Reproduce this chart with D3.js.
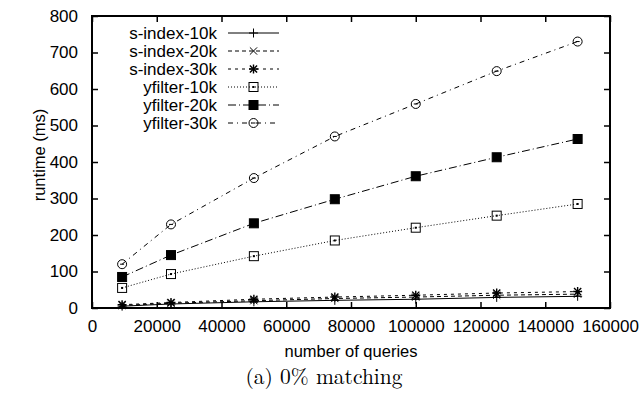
<!DOCTYPE html>
<html>
<head>
<meta charset="utf-8">
<script src="https://cdn.jsdelivr.net/npm/d3@7"></script>
<style>
  body { margin: 0; background: #fff; }
  text { font-family: "Liberation Sans", Arial, sans-serif; fill: #000; }
</style>
</head>
<body>
<script>
const width = 644, height = 396;
const margin = { top: 16, right: 34, bottom: 88, left: 92 };
const w = width - margin.left - margin.right;
const h = height - margin.top - margin.bottom;

// data
const queries = [9300, 24400, 50000, 75000, 100000, 125000, 150000];
const sIndex10k = [5, 11, 17, 21, 24, 29, 32];
const sIndex20k = [7, 13, 20, 26, 30, 35, 38];
const sIndex30k = [9, 15, 24, 30, 35, 41, 45];
const yfilter10k = [55, 93, 142, 185, 220, 253, 285];
const yfilter20k = [85, 145, 232, 298, 361, 413, 463];
const yfilter30k = [120, 229, 356, 470, 559, 649, 730];
const xTicks = [0, 20000, 40000, 60000, 80000, 100000, 120000, 140000, 160000];
const yTicks = [0, 100, 200, 300, 400, 500, 600, 700, 800];

const series = [
  { name: "s-index-10k", values: sIndex10k, dash: null, marker: "plus" },
  { name: "s-index-20k", values: sIndex20k, dash: "4,3", marker: "cross" },
  { name: "s-index-30k", values: sIndex30k, dash: "3,4", marker: "star" },
  { name: "yfilter-10k", values: yfilter10k, dash: "1,2", marker: "box" },
  { name: "yfilter-20k", values: yfilter20k, dash: "8,3,1,3", marker: "boxfill" },
  { name: "yfilter-30k", values: yfilter30k, dash: "5,4,1,4", marker: "circle" }
];

const svg = d3.select("body").append("svg")
  .attr("width", width).attr("height", height);
const g = svg.append("g").attr("transform", `translate(${margin.left},${margin.top})`);

const x = d3.scaleLinear().domain([0, 160000]).range([0, w]);
const y = d3.scaleLinear().domain([0, 800]).range([h, 0]);

// ticks drawn inward on all four sides
const tl = 6;
g.append("g").attr("transform", `translate(0,${h})`)
  .call(d3.axisBottom(x).tickValues(xTicks).tickSize(-tl).tickPadding(12).tickFormat(d3.format("d")))
  .call(a => a.select(".domain").remove());
g.append("g")
  .call(d3.axisTop(x).tickValues(xTicks).tickSize(-tl).tickFormat(""))
  .call(a => a.select(".domain").remove());
g.append("g")
  .call(d3.axisLeft(y).tickValues(yTicks).tickSize(-tl).tickPadding(14))
  .call(a => a.select(".domain").remove());
g.append("g").attr("transform", `translate(${w},0)`)
  .call(d3.axisRight(y).tickValues(yTicks).tickSize(-tl).tickFormat(""))
  .call(a => a.select(".domain").remove());
g.selectAll(".tick line").attr("stroke", "#000").attr("stroke-width", 1.5);
g.selectAll(".tick text").style("font-size", "17px").style("font-family", "Liberation Sans, Arial, sans-serif");

g.append("rect").attr("width", w).attr("height", h)
  .attr("fill", "none").attr("stroke", "#000").attr("stroke-width", 2);

function drawMarker(sel, type, cx, cy) {
  const s = 4.5;
  const p = sel.append("g").attr("transform", `translate(${cx},${cy})`)
    .attr("stroke", "#000").attr("stroke-width", 1).attr("fill", "none");
  if (type === "plus" || type === "star") {
    p.append("path").attr("d", `M${-s},0H${s}M0,${-s}V${s}`);
  }
  if (type === "cross" || type === "star") {
    p.append("path").attr("d", `M${-s * 0.8},${-s * 0.8}L${s * 0.8},${s * 0.8}M${-s * 0.8},${s * 0.8}L${s * 0.8},${-s * 0.8}`);
  }
  if (type === "star") p.attr("stroke-width", 1.4);
  if (type === "box") {
    p.append("rect").attr("x", -s).attr("y", -s).attr("width", 2 * s).attr("height", 2 * s);
    p.append("rect").attr("x", -0.5).attr("y", -0.5).attr("width", 1).attr("height", 1).attr("fill", "#000");
  }
  if (type === "boxfill") {
    p.append("rect").attr("x", -s).attr("y", -s).attr("width", 2 * s).attr("height", 2 * s).attr("fill", "#000");
  }
  if (type === "circle") {
    p.append("circle").attr("r", s);
    p.append("path").attr("d", "M-2,0H2");
  }
}

const line = d3.line().x((d, i) => x(queries[i])).y(d => y(d));

series.forEach(s => {
  g.append("path").datum(s.values)
    .attr("d", line)
    .attr("fill", "none").attr("stroke", "#000").attr("stroke-width", 1)
    .attr("stroke-dasharray", s.dash);
  s.values.forEach((v, i) => drawMarker(g, s.marker, x(queries[i]), y(v)));
});

// legend
const leg = svg.append("g");
series.forEach((s, i) => {
  const ly = 33 + i * 18;
  leg.append("text").attr("x", 217).attr("y", ly).attr("dy", "0.35em")
    .attr("text-anchor", "end").style("font-size", "17px").text(s.name);
  leg.append("line").attr("x1", 228).attr("x2", 279).attr("y1", ly).attr("y2", ly)
    .attr("stroke", "#000").attr("stroke-width", 1).attr("stroke-dasharray", s.dash);
  drawMarker(leg, s.marker, 253.5, ly);
});

svg.append("text").attr("x", margin.left + w / 2).attr("y", 357)
  .attr("text-anchor", "middle").style("font-size", "16.5px").text("number of queries");
svg.append("text").attr("transform", `translate(45,155) rotate(-90)`)
  .attr("text-anchor", "middle").style("font-size", "16.5px").text("runtime (ms)");
svg.append("text").attr("x", 324).attr("y", 384)
  .attr("text-anchor", "middle").style("font-size", "21.5px")
  .style("font-family", "'Latin Modern Roman', 'DejaVu Serif', 'Liberation Serif', serif")
  .text("(a) 0% matching");
</script>
</body>
</html>
